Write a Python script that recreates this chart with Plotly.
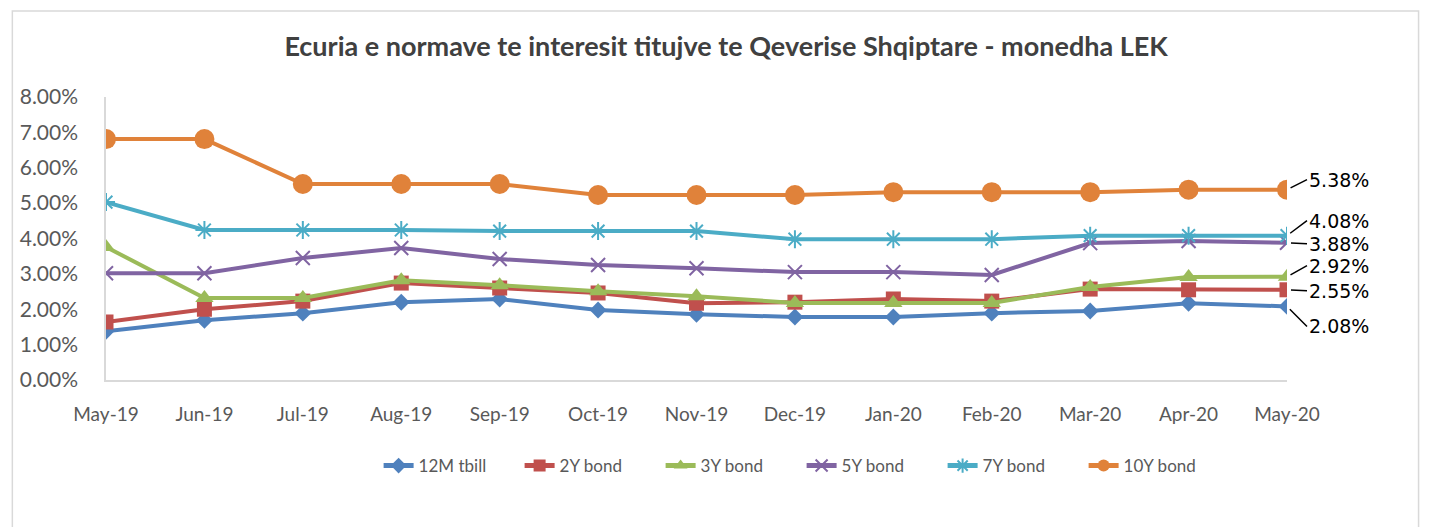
import plotly.graph_objects as go

months = ["May-19", "Jun-19", "Jul-19", "Aug-19", "Sep-19", "Oct-19", "Nov-19",
          "Dec-19", "Jan-20", "Feb-20", "Mar-20", "Apr-20", "May-20"]

tbill_12m = [1.38, 1.69, 1.89, 2.20, 2.29, 1.98, 1.86, 1.78, 1.78, 1.89, 1.95, 2.17, 2.08]
bond_2y = [1.64, 2.00, 2.23, 2.74, 2.60, 2.46, 2.17, 2.20, 2.29, 2.23, 2.57, 2.55, 2.55]
bond_3y = [3.76, 2.32, 2.32, 2.82, 2.68, 2.51, 2.37, 2.18, 2.18, 2.18, 2.63, 2.91, 2.92]
bond_5y = [3.02, 3.02, 3.45, 3.73, 3.42, 3.25, 3.16, 3.05, 3.05, 2.97, 3.87, 3.93, 3.88]
bond_7y = [5.03, 4.24, 4.24, 4.24, 4.21, 4.21, 4.21, 3.98, 3.98, 3.98, 4.08, 4.08, 4.08]
bond_10y = [6.81, 6.81, 5.54, 5.54, 5.54, 5.23, 5.23, 5.23, 5.31, 5.31, 5.31, 5.38, 5.38]

series_names = ["12M tbill", "2Y bond", "3Y bond", "5Y bond", "7Y bond", "10Y bond"]
series_values = [tbill_12m, bond_2y, bond_3y, bond_5y, bond_7y, bond_10y]
colors = ["#4F81BD", "#C0504D", "#9BBB59", "#8064A2", "#4BACC6", "#E0823A"]
symbols = ["diamond", "square", "triangle-up", "x-thin-open", "asterisk-open", "circle"]
msizes = [13, 15, 16, 14, 15, 20]
# label offsets (pixels) for the last-point data labels
label_dy = [20, 1, -11, 1, -15, -10]

FONT = "Lato"

fig = go.Figure()
for name, vals, col, sym, ms in zip(series_names, series_values, colors, symbols, msizes):
    marker = dict(symbol=sym, size=ms, color=col)
    if "open" in sym:
        marker["line"] = dict(color=col, width=2)
    fig.add_trace(go.Scatter(
        x=months, y=vals, name=name, mode="lines+markers",
        line=dict(color=col, width=4),
        marker=marker,
    ))

for vals, dy in zip(series_values, label_dy):
    fig.add_annotation(
        x=months[-1], y=vals[-1], text=f"{vals[-1]:.2f}%",
        showarrow=True, arrowhead=0, arrowwidth=1.5, arrowcolor="black",
        ax=20, ay=dy, xanchor="left", standoff=4,
        font=dict(family="DejaVu Sans", size=19, color="black"),
    )

# outer chart border
fig.add_shape(type="rect", xref="paper", yref="paper",
              x0=-0.0793, x1=1.1114, y0=-0.60, y1=1.304,
              line=dict(color="#D9D9D9", width=1.5), fillcolor="rgba(0,0,0,0)", layer="below")

fig.update_layout(
    width=1429, height=527,
    margin=dict(l=94, r=150, t=89, b=155),
    paper_bgcolor="white", plot_bgcolor="white",
    title=dict(text="<b>Ecuria e normave te interesit titujve te Qeverise Shqiptare - monedha LEK</b>",
               x=0.5025, xanchor="center", y=0.926, yanchor="middle",
               font=dict(family=FONT, size=27, color="#404040")),
    font=dict(family=FONT, color="#595959"),
    showlegend=True,
    legend=dict(orientation="h", x=0.589, xanchor="center", y=-0.304, yanchor="middle",
                font=dict(family=FONT, size=17, color="#595959"),
                entrywidth=96, itemsizing="constant"),
    xaxis=dict(type="category", range=[0, 12], showgrid=False, showline=True,
               linecolor="#D9D9D9", linewidth=1.5, ticks="", ticklabelstandoff=16,
               tickfont=dict(family=FONT, size=19, color="#595959"), zeroline=False),
    yaxis=dict(range=[0, 8], dtick=1, tickformat=".2f", ticksuffix="%", showgrid=False,
               showline=True, linecolor="#D9D9D9", linewidth=1.5, ticks="",
               ticklabelstandoff=22, zeroline=False,
               tickfont=dict(family=FONT, size=21, color="#595959")),
)

fig.write_html("out.html")
